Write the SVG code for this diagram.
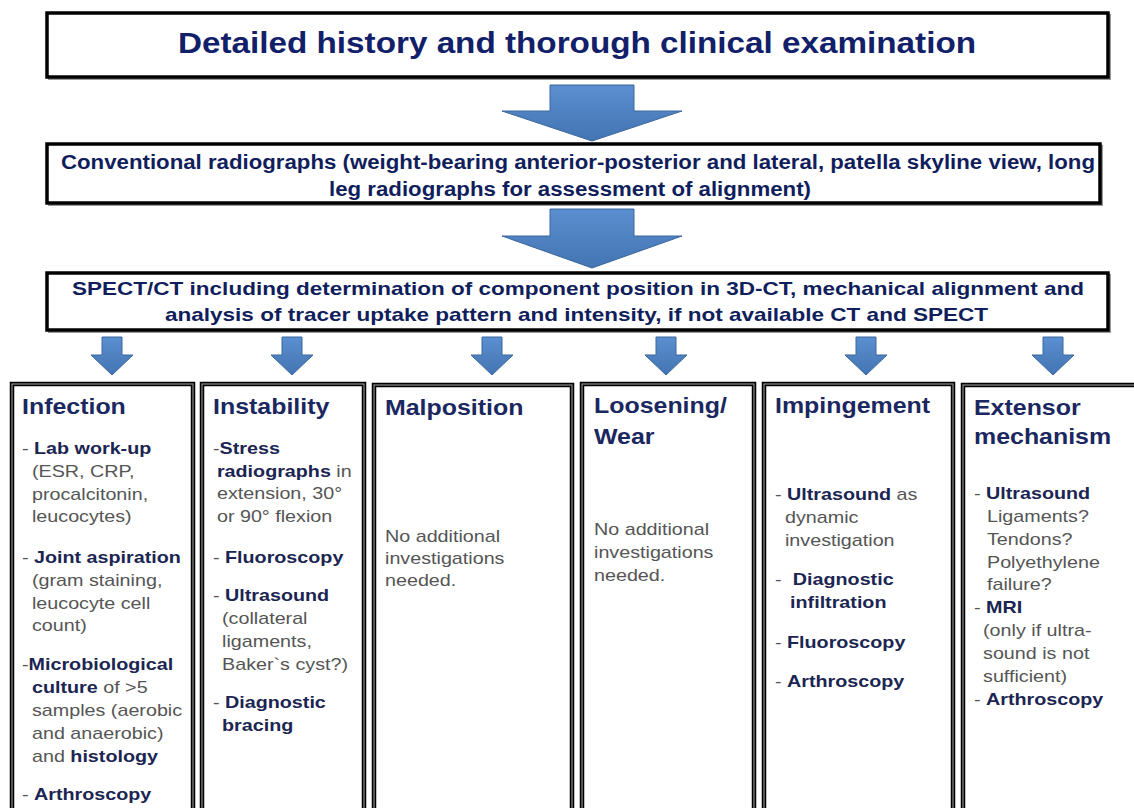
<svg xmlns="http://www.w3.org/2000/svg" width="1134" height="808" viewBox="0 0 1134 808">
<style>
.bg{fill:#ffffff}
.box{fill:#ffffff;stroke:#000000;stroke-width:3.5}
.shadow{fill:none;stroke:#9a9a9a;stroke-width:2}
.col{fill:#ffffff;stroke:#000000;stroke-width:4.5}
.colin{fill:none;stroke:#8c8c8c;stroke-width:1.2}
.arrow{fill:url(#ag);stroke:#3b679c;stroke-width:1}
.title{font-family:"Liberation Sans",Arial,sans-serif;font-weight:bold;fill:#12206a}
.mid{font-family:"Liberation Sans Narrow","Liberation Sans",Arial,sans-serif;font-weight:bold;fill:#111e5c}
.h{font-family:"Liberation Sans",Arial,sans-serif;font-weight:bold;font-size:21.5px;fill:#1b2760}
.t{font-family:"Liberation Sans",Arial,sans-serif;font-size:17px;fill:#555555}
.b{font-weight:bold;fill:#1b2552}
</style>
<defs>
<linearGradient id="ag" x1="0" y1="0" x2="0" y2="1">
<stop offset="0" stop-color="#5b8fcf"/>
<stop offset="1" stop-color="#4374b3"/>
</linearGradient>
</defs>
<rect class="bg" x="0" y="0" width="1134" height="808"/>

<g id="history">
<rect class="shadow" x="49" y="15" width="1061" height="64"/>
<rect class="box" x="47" y="13" width="1061" height="64"/>
<text class="title" x="178" y="53" font-size="30" textLength="798" lengthAdjust="spacingAndGlyphs">Detailed history and thorough clinical examination</text>
</g>

<g id="radiographs">
<rect class="shadow" x="49" y="146" width="1053" height="59"/>
<rect class="box" x="47" y="144" width="1053" height="59"/>
<text class="mid" x="61" y="169" font-size="20" textLength="1034" lengthAdjust="spacingAndGlyphs">Conventional radiographs (weight-bearing anterior-posterior and lateral, patella skyline view, long</text>
<text class="mid" x="329" y="196" font-size="20" textLength="482" lengthAdjust="spacingAndGlyphs">leg radiographs for assessment of alignment)</text>
</g>

<g id="spectct">
<rect class="shadow" x="49" y="275" width="1061" height="57"/>
<rect class="box" x="47" y="273" width="1061" height="57"/>
<text class="mid" x="72" y="295" font-size="19" textLength="1012" lengthAdjust="spacingAndGlyphs">SPECT/CT including determination of component position in 3D-CT, mechanical alignment and</text>
<text class="mid" x="165" y="321" font-size="19" textLength="823" lengthAdjust="spacingAndGlyphs">analysis of tracer uptake pattern and intensity, if not available CT and SPECT</text>
</g>

<g id="connectors">
<polygon class="arrow" points="550,85 634,85 634,111 682,111 592,141 502,111 550,111"/>
<polygon class="arrow" points="550,209 634,209 634,236 682,236 592,268 502,236 550,236"/>
<polygon class="arrow" points="102,337 122,337 122,355 133,355 112,375 91,355 102,355"/>
<polygon class="arrow" points="282,337 302,337 302,355 313,355 292,375 271,355 282,355"/>
<polygon class="arrow" points="482,337 502,337 502,355 513,355 492,375 471,355 482,355"/>
<polygon class="arrow" points="656,337 676,337 676,355 687,355 666,375 645,355 656,355"/>
<polygon class="arrow" points="856,337 876,337 876,355 887,355 866,375 845,355 856,355"/>
<polygon class="arrow" points="1043,337 1063,337 1063,355 1074,355 1053,375 1032,355 1043,355"/>
</g>

<g id="infection">
<rect class="col" x="12" y="384" width="181" height="440"/>
<rect class="colin" x="12" y="384" width="181" height="440"/>
<g transform="translate(22 0) scale(1.16 1)">
<text class="h" x="0" y="414">Infection</text>
<text class="t" x="0" y="454">- <tspan class="b">Lab work-up</tspan></text>
<text class="t" x="8.6" y="477">(ESR, CRP,</text>
<text class="t" x="8.6" y="500">procalcitonin,</text>
<text class="t" x="8.6" y="522">leucocytes)</text>
<text class="t" x="0" y="563">- <tspan class="b">Joint aspiration</tspan></text>
<text class="t" x="8.6" y="586">(gram staining,</text>
<text class="t" x="8.6" y="609">leucocyte cell</text>
<text class="t" x="8.6" y="631">count)</text>
<text class="t" x="0" y="670">-<tspan class="b">Microbiological</tspan></text>
<text class="t" x="8.6" y="693"><tspan class="b">culture</tspan> of &gt;5</text>
<text class="t" x="8.6" y="716">samples (aerobic</text>
<text class="t" x="8.6" y="739">and anaerobic)</text>
<text class="t" x="8.6" y="762">and <tspan class="b">histology</tspan></text>
<text class="t" x="0" y="800">- <tspan class="b">Arthroscopy</tspan></text>
</g>
</g>

<g id="instability">
<rect class="col" x="202" y="384" width="162" height="440"/>
<rect class="colin" x="202" y="384" width="162" height="440"/>
<g transform="translate(213 0) scale(1.16 1)">
<text class="h" x="0" y="414">Instability</text>
<text class="t" x="0" y="454">-<tspan class="b">Stress</tspan></text>
<text class="t" x="3.4" y="477"><tspan class="b">radiographs</tspan> in</text>
<text class="t" x="3.4" y="499">extension, 30°</text>
<text class="t" x="3.4" y="522">or 90° flexion</text>
<text class="t" x="0" y="563">- <tspan class="b">Fluoroscopy</tspan></text>
<text class="t" x="0" y="601">- <tspan class="b">Ultrasound</tspan></text>
<text class="t" x="7.8" y="624">(collateral</text>
<text class="t" x="7.8" y="647">ligaments,</text>
<text class="t" x="7.8" y="670">Baker`s cyst?)</text>
<text class="t" x="0" y="708">- <tspan class="b">Diagnostic</tspan></text>
<text class="t" x="7.8" y="731"><tspan class="b">bracing</tspan></text>
</g>
</g>

<g id="malposition">
<rect class="col" x="374" y="385" width="198" height="440"/>
<rect class="colin" x="374" y="385" width="198" height="440"/>
<g transform="translate(385 0) scale(1.16 1)">
<text class="h" x="0" y="415">Malposition</text>
<text class="t" x="0" y="542">No additional</text>
<text class="t" x="0" y="564">investigations</text>
<text class="t" x="0" y="586">needed.</text>
</g>
</g>

<g id="loosening">
<rect class="col" x="582" y="384" width="172" height="440"/>
<rect class="colin" x="582" y="384" width="172" height="440"/>
<g transform="translate(594 0) scale(1.16 1)">
<text class="h" x="0" y="413">Loosening/</text>
<text class="h" x="0" y="444">Wear</text>
<text class="t" x="0" y="535">No additional</text>
<text class="t" x="0" y="558">investigations</text>
<text class="t" x="0" y="581">needed.</text>
</g>
</g>

<g id="impingement">
<rect class="col" x="764" y="384" width="189" height="440"/>
<rect class="colin" x="764" y="384" width="189" height="440"/>
<g transform="translate(775 0) scale(1.16 1)">
<text class="h" x="0" y="413">Impingement</text>
<text class="t" x="0" y="500">- <tspan class="b">Ultrasound</tspan> as</text>
<text class="t" x="8.6" y="523">dynamic</text>
<text class="t" x="8.6" y="546">investigation</text>
<text class="t" x="0" y="585">- <tspan class="b" dx="5">Diagnostic</tspan></text>
<text class="t b" x="13" y="608">infiltration</text>
<text class="t" x="0" y="648">- <tspan class="b">Fluoroscopy</tspan></text>
<text class="t" x="0" y="687">- <tspan class="b">Arthroscopy</tspan></text>
</g>
</g>

<g id="extensor">
<rect class="col" x="963" y="385" width="190" height="440"/>
<rect class="colin" x="963" y="385" width="190" height="440"/>
<g transform="translate(974 0) scale(1.16 1)">
<text class="h" x="0" y="415">Extensor</text>
<text class="h" x="0" y="444">mechanism</text>
<text class="t" x="0" y="499">- <tspan class="b">Ultrasound</tspan></text>
<text class="t" x="11.2" y="522">Ligaments?</text>
<text class="t" x="11.2" y="545">Tendons?</text>
<text class="t" x="11.2" y="568">Polyethylene</text>
<text class="t" x="11.2" y="590">failure?</text>
<text class="t" x="0" y="613">- <tspan class="b">MRI</tspan></text>
<text class="t" x="7.8" y="636">(only if ultra-</text>
<text class="t" x="7.8" y="659">sound is not</text>
<text class="t" x="7.8" y="682">sufficient)</text>
<text class="t" x="0" y="705">- <tspan class="b">Arthroscopy</tspan></text>
</g>
</g>
</svg>
